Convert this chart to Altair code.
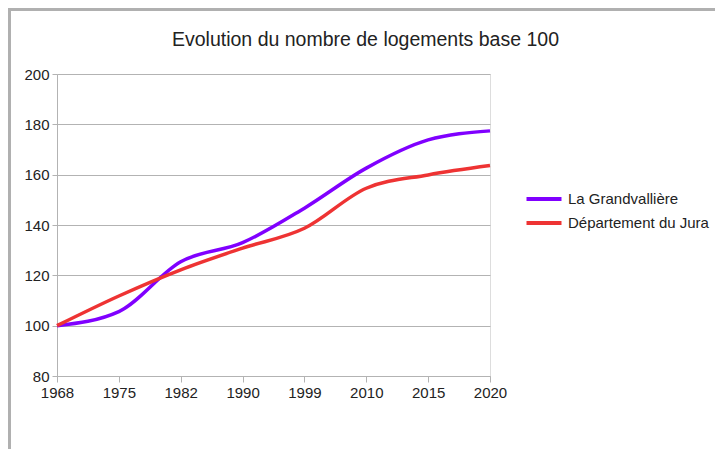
import altair as alt
import pandas as pd

years = ["1968", "1975", "1982", "1990", "1999", "2010", "2015", "2020"]
grandvalliere = [100, 105.6, 125.4, 133.0, 146.7, 162.6, 173.8, 177.4]
jura = [100, 111.8, 122.2, 130.8, 138.7, 154.6, 159.9, 163.6]
series_names = ["La Grandvallière", "Département du Jura"]
series_colors = ["#8000ff", "#ee3333"]
title_text = "Evolution du nombre de logements base 100"

rows = []
for name, vals in zip(series_names, [grandvalliere, jura]):
    for y, v in zip(years, vals):
        rows.append({"Année": y, "Valeur": v, "Série": name})
df = pd.DataFrame(rows)

W, H = 433, 302
PL, PT, PR, PB = 49, 66, 225, 73

lines = alt.Chart(df).mark_line(interpolate="monotone", strokeWidth=3.5).encode(
    x=alt.X("Année:O", sort=years, scale=alt.Scale(type="point", padding=0),
            axis=alt.Axis(title=None, labelAngle=0, labelFontSize=15, labelColor="#222",
                          labelFont="Liberation Sans", domainColor="#b3b3b3", tickColor="#b3b3b3",
                          tickSize=6, labelPadding=3, grid=False)),
    y=alt.Y("Valeur:Q", scale=alt.Scale(domain=[80, 200], nice=False, zero=False),
            axis=alt.Axis(title=None, values=[80, 100, 120, 140, 160, 180, 200], labelFontSize=15,
                          labelColor="#222", labelFont="Liberation Sans", domainColor="#b3b3b3",
                          tickColor="#b3b3b3", gridColor="#b3b3b3", tickSize=5, labelPadding=3)),
    color=alt.Color("Série:N", sort=series_names,
                    scale=alt.Scale(domain=series_names, range=series_colors),
                    legend=alt.Legend(title=None, orient="none", legendX=476, legendY=114,
                                      symbolType="M-2,0H2", symbolStrokeWidth=4, symbolSize=306,
                                      labelFontSize=15, labelFont="Liberation Sans", labelColor="#222",
                                      rowPadding=5, labelOffset=13)),
)

frame_df = pd.DataFrame({"k": [0]})
frame_left = alt.Chart(frame_df).mark_rule(color="#b0b0b0", strokeWidth=3).encode(
    x=alt.value(-PL + 1.5), y=alt.value(-PT), y2=alt.value(H + PB)
)
frame_top = alt.Chart(frame_df).mark_rule(color="#b0b0b0", strokeWidth=3).encode(
    y=alt.value(-PT + 1.5), x=alt.value(-PL), x2=alt.value(W + PR)
)
title = alt.Chart(frame_df).mark_text(
    fontSize=19.5, font="Liberation Sans", color="#222", align="center", baseline="middle"
).encode(x=alt.value(W / 2 + 92), y=alt.value(-34), text=alt.value(title_text))

chart = alt.layer(lines, frame_left, frame_top, title).properties(
    width=W, height=H,
    autosize=alt.AutoSizeParams(type="none"),
    padding={"left": PL, "top": PT, "right": PR, "bottom": PB},
).configure_view(stroke="#b3b3b3").configure(background="white")

chart.save("out.html", embed_options={"renderer": "svg", "actions": False})
